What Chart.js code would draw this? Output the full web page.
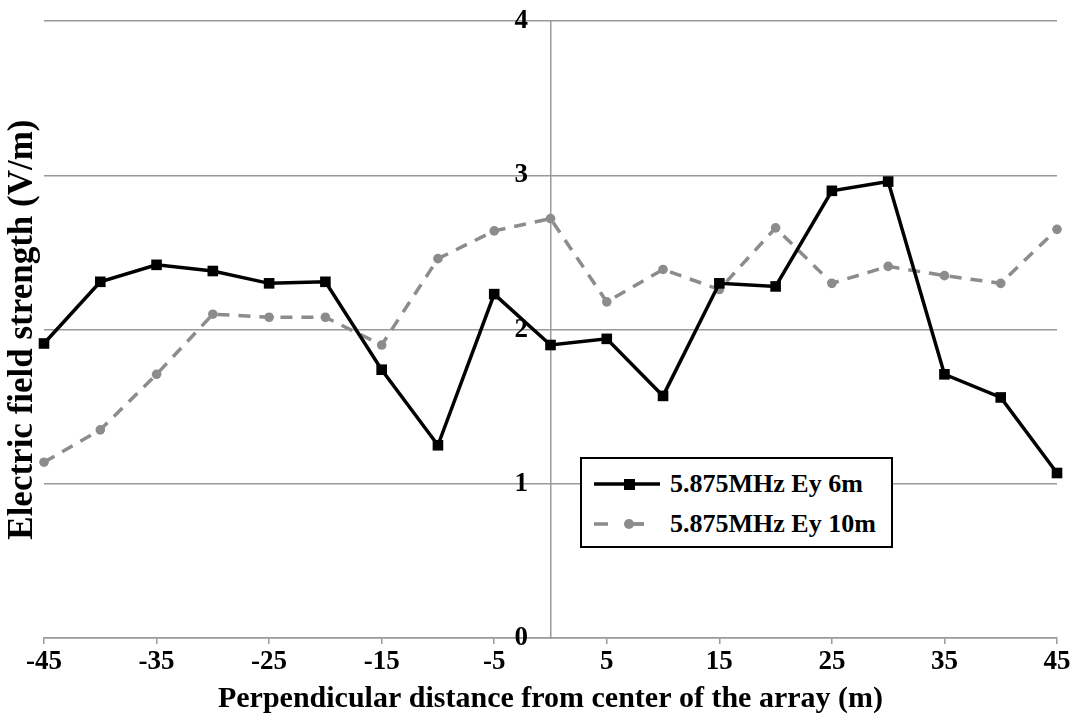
<!DOCTYPE html>
<html>
<head>
<meta charset="utf-8">
<script src="https://cdn.jsdelivr.net/npm/chart.js@4"></script>
<style>
  body { margin: 0; background: #fff; }
  #wrap { position: relative; width: 1081px; height: 722px; }
  #legend {
    position: absolute; left: 580px; top: 457px; width: 309px; height: 87px;
    border: 2px solid #000; background: #fff;
    font: bold 26px 'Liberation Serif', 'Times New Roman', serif; color: #000;
  }
  #legend .row { position: absolute; left: 10px; height: 30px; display: flex; align-items: center; }
  #legend svg { margin-right: 8px; }
</style>
</head>
<body>
<div id="wrap">
  <canvas id="myChart" width="1081" height="722"></canvas>
  <div id="legend">
    <div class="row" style="top:10px">
      <svg width="70" height="20"><line x1="2" y1="10" x2="68" y2="10" stroke="#000" stroke-width="3.5"/><rect x="32" y="5" width="11" height="11" fill="#000"/></svg>
      <span id="lab0"></span>
    </div>
    <div class="row" style="top:50px">
      <svg width="70" height="20"><line x1="2" y1="10" x2="68" y2="10" stroke="#8c8c8c" stroke-width="3.5" stroke-dasharray="14 22"/><circle cx="37" cy="10" r="5" fill="#8c8c8c"/><line x1="37" y1="10" x2="52" y2="10" stroke="#8c8c8c" stroke-width="3.5"/></svg>
      <span id="lab1"></span>
    </div>
  </div>
</div>
<script>
  // data
  var distances = [-45, -40, -35, -30, -25, -20, -15, -10, -5, 0, 5, 10, 15, 20, 25, 30, 35, 40, 45];
  var ey6m = [1.91, 2.31, 2.42, 2.38, 2.30, 2.31, 1.74, 1.25, 2.23, 1.90, 1.94, 1.57, 2.30, 2.28, 2.90, 2.96, 1.71, 1.56, 1.07];
  var ey10m = [1.14, 1.35, 1.71, 2.10, 2.08, 2.08, 1.90, 2.46, 2.64, 2.72, 2.18, 2.39, 2.26, 2.66, 2.30, 2.41, 2.35, 2.30, 2.65];
  var xTicks = [-45, -35, -25, -15, -5, 5, 15, 25, 35, 45];
  var yTicks = [0, 1, 2, 3, 4];
  var seriesNames = ['5.875MHz Ey 6m', '5.875MHz Ey 10m'];

  document.getElementById('lab0').textContent = seriesNames[0];
  document.getElementById('lab1').textContent = seriesNames[1];

  function pts(arr) {
    return distances.map(function (d, i) { return { x: d, y: arr[i] }; });
  }
  function fixedTicks(list) {
    return function (s) { s.ticks = list.map(function (v) { return { value: v }; }); };
  }

  var family = "'Liberation Serif', 'Times New Roman', serif";
  var tickFont = { family: family, weight: 'bold', size: 27 };
  var gridGray = '#9a9a9a';

  var ctx = document.getElementById('myChart').getContext('2d');
  var chart = new Chart(ctx, {
      type: 'line',
      data: {
          datasets: [{
              label: seriesNames[0],
              data: pts(ey6m),
              borderColor: '#000',
              backgroundColor: '#000',
              borderWidth: 3.5,
              pointStyle: 'rect',
              pointRadius: 7.5,
              pointBorderWidth: 0,
              clip: false
          }, {
              label: seriesNames[1],
              data: pts(ey10m),
              borderColor: '#8c8c8c',
              backgroundColor: '#8c8c8c',
              borderWidth: 3.5,
              borderDash: [12, 9],
              pointStyle: 'circle',
              pointRadius: 4.8,
              pointBorderWidth: 0,
              clip: false
          }]
      },
      options: {
          responsive: false,
          animation: false,
          layout: { padding: { top: 0, right: 24 } },
          plugins: { legend: { display: false }, tooltip: { enabled: false } },
          scales: {
              x: {
                  type: 'linear',
                  min: -45,
                  max: 45,
                  afterBuildTicks: fixedTicks(xTicks),
                  afterFit: function (s) { s.height = 84; },
                  grid: { drawOnChartArea: false, drawTicks: true, tickLength: 6, color: gridGray, lineWidth: 1.5 },
                  border: { color: gridGray, width: 1.5 },
                  ticks: { color: '#000', font: tickFont, padding: 2, maxRotation: 0 },
                  title: { display: true, text: 'Perpendicular distance from center of the array (m)', color: '#000', font: { family: family, weight: 'bold', size: 30 }, padding: { top: 0, bottom: 5 } }
              },
              y: {
                  min: 0,
                  max: 4,
                  afterBuildTicks: fixedTicks(yTicks),
                  afterFit: function (s) { s.width = 44; },
                  grid: { drawTicks: false, color: gridGray, lineWidth: 1.5 },
                  border: { display: false },
                  ticks: { display: false },
                  title: { display: true, text: 'Electric field strength (V/m)', color: '#000', font: { family: family, weight: 'bold', size: 35 }, padding: { top: 2, bottom: 0 } }
              },
              // tick labels sit a little left of the centre axis
              yLabels: {
                  axis: 'y',
                  position: { x: -2 },
                  min: 0,
                  max: 4,
                  afterBuildTicks: fixedTicks(yTicks),
                  grid: { drawOnChartArea: false, drawTicks: false },
                  border: { display: false },
                  ticks: { color: '#000', font: tickFont, padding: 5 }
              },
              // the vertical axis line at x = 0
              yLine: {
                  axis: 'y',
                  position: { x: 0 },
                  min: 0,
                  max: 4,
                  grid: { drawOnChartArea: false, drawTicks: false },
                  border: { color: gridGray, width: 1.5 },
                  ticks: { display: false }
              }
          }
      }
  });
</script>
</body>
</html>
